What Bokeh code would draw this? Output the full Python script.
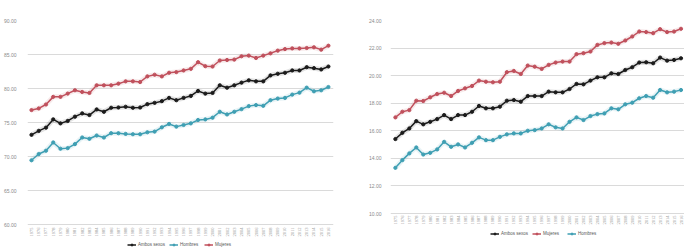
import math
from bokeh.plotting import figure
from bokeh.layouts import row
from bokeh.models import (ColumnDataSource, Legend, LegendItem, FixedTicker,
                          PrintfTickFormatter, Range1d, LabelSet)
from bokeh.embed import file_html
from bokeh.resources import INLINE

years = list(range(1975, 2017))
year_labels = [str(y) for y in years]

# Esperanza de vida al nacer
birth_total = [73.2, 73.78, 74.26, 75.47, 74.89, 75.24, 75.87, 76.35, 76.11, 76.93,
               76.59, 77.18, 77.22, 77.32, 77.18, 77.22, 77.71, 77.9, 78.15, 78.63,
               78.29, 78.63, 78.92, 79.65, 79.26, 79.36, 80.48, 80.13, 80.48, 80.87,
               81.21, 81.06, 81.06, 81.93, 82.17, 82.32, 82.66, 82.66, 83.14, 83.0,
               82.81, 83.24]
birth_men = [69.46, 70.38, 70.87, 72.08, 71.16, 71.25, 71.84, 72.81, 72.62, 73.1,
             72.81, 73.44, 73.44, 73.34, 73.29, 73.29, 73.58, 73.68, 74.31, 74.8,
             74.41, 74.65, 74.89, 75.38, 75.47, 75.72, 76.59, 76.2, 76.59, 76.98,
             77.42, 77.57, 77.47, 78.29, 78.53, 78.63, 79.11, 79.4, 80.13, 79.6,
             79.75, 80.23]
birth_women = [76.84, 77.08, 77.66, 78.78, 78.78, 79.26, 79.75, 79.5, 79.36, 80.48,
               80.48, 80.48, 80.72, 81.06, 81.06, 80.96, 81.79, 82.03, 81.79, 82.32,
               82.42, 82.66, 82.9, 83.87, 83.29, 83.24, 84.12, 84.2, 84.26, 84.75,
               84.84, 84.5, 84.84, 85.18, 85.57, 85.8, 85.9, 85.9, 85.96, 86.06,
               85.72, 86.3]

# Esperanza de vida a los 65 años
at65_total = [15.4, 15.85, 16.17, 16.7, 16.47, 16.65, 16.85, 17.14, 16.85, 17.14,
              17.14, 17.38, 17.8, 17.63, 17.63, 17.75, 18.18, 18.23, 18.11, 18.52,
              18.52, 18.52, 18.84, 18.79, 18.79, 19.03, 19.4, 19.37, 19.64, 19.88,
              19.88, 20.17, 20.12, 20.41, 20.61, 20.95, 20.97, 20.9, 21.31, 21.09,
              21.14, 21.26]
at65_women = [16.97, 17.38, 17.5, 18.18, 18.16, 18.43, 18.67, 18.76, 18.52, 18.89,
              19.08, 19.25, 19.64, 19.56, 19.52, 19.56, 20.25, 20.34, 20.12, 20.73,
              20.65, 20.49, 20.78, 20.95, 21.02, 21.02, 21.56, 21.63, 21.75, 22.23,
              22.36, 22.4, 22.31, 22.55, 22.84, 23.2, 23.16, 23.08, 23.37, 23.16,
              23.2, 23.4]
at65_men = [13.31, 13.87, 14.36, 14.79, 14.28, 14.4, 14.65, 15.2, 14.84, 15.01,
            14.79, 15.13, 15.52, 15.32, 15.32, 15.56, 15.74, 15.81, 15.81, 16.0,
            16.05, 16.17, 16.47, 16.25, 16.17, 16.65, 16.97, 16.78, 17.07, 17.21,
            17.26, 17.63, 17.56, 17.92, 18.04, 18.36, 18.52, 18.4, 18.96, 18.79,
            18.84, 18.96]

left_ticks = [60, 65, 70, 75, 80, 85, 90]
right_ticks = [10, 12, 14, 16, 18, 20, 22, 24]

BLACK = "#1b1b1b"
RED = "#c0505c"
TEAL = "#3f9fb3"
GRID = "#dadada"
TXT = "#8a8a8a"
FONT = "Liberation Sans"


def make_chart(width, height, yr, ticks, series, minb, xr, label_y, leg_loc, standoff):
    p = figure(width=width, height=height, output_backend="svg", toolbar_location=None,
               x_range=Range1d(*xr), y_range=Range1d(*yr),
               min_border_left=minb[0], min_border_right=minb[1],
               min_border_top=minb[2], min_border_bottom=minb[3])
    p.outline_line_color = None
    p.xgrid.grid_line_color = None
    p.ygrid.grid_line_color = GRID
    p.ygrid.grid_line_width = 1
    p.xaxis.visible = False
    p.yaxis.ticker = FixedTicker(ticks=ticks)
    p.yaxis.formatter = PrintfTickFormatter(format="%.2f")
    ax = p.yaxis[0]
    ax.axis_line_color = None
    ax.major_tick_line_color = None
    ax.minor_tick_line_color = None
    ax.major_label_text_font_size = "5px"
    ax.major_label_text_color = TXT
    ax.major_label_text_font = FONT
    ax.major_label_standoff = standoff

    # year labels under the plotting area (x through the data scale)
    lsrc = ColumnDataSource(dict(x=years, label=year_labels))
    p.add_layout(LabelSet(x="x", y=label_y, y_units="screen", text="label", source=lsrc,
                          angle=math.pi / 2, text_align="right", text_baseline="middle",
                          text_font_size="4.5px", text_color=TXT, text_font=FONT))

    items = []
    for label, vals, color in series:
        src = ColumnDataSource(dict(x=years, y=vals))
        p.line("x", "y", source=src, line_color=color, line_width=5, line_alpha=0.12)
        ln = p.line("x", "y", source=src, line_color=color, line_width=1.5)
        mk = p.scatter("x", "y", source=src, size=3.2, fill_color=color, line_color=color)
        items.append(LegendItem(label=label, renderers=[ln, mk]))
    leg = Legend(items=items, orientation="horizontal", location=leg_loc,
                 label_text_font_size="4.5px", label_text_color="#555555",
                 label_text_font=FONT, glyph_width=9, glyph_height=5,
                 label_height=5, label_standoff=2, spacing=4, padding=0, margin=0,
                 border_line_color=None, background_fill_alpha=0)
    p.add_layout(leg)
    return p


# left: 60 at y=224, 90 at y=18, frame bottom at 247
left = make_chart(365, 247, (56.65, 90), left_ticks,
                  [("Ambos sexos", birth_total, BLACK),
                   ("Hombres", birth_men, TEAL),
                   ("Mujeres", birth_women, RED)],
                  (27, 32, 18, 0), (1974.45, 2016.7), 20, (100, 0), 5)

# right: 10 at y=213, 24 at y=20, frame bottom at 247
right = make_chart(319, 247, (7.534, 24), right_ticks,
                   [("Ambos sexos", at65_total, BLACK),
                    ("Mujeres", at65_women, RED),
                    ("Hombres", at65_men, TEAL)],
                   (18, 0, 20, 0), (1974.3, 2016.5), 32, (100, 11), 3)

layout = row(left, right)

open("out.html", "w").write(file_html(layout, INLINE))
